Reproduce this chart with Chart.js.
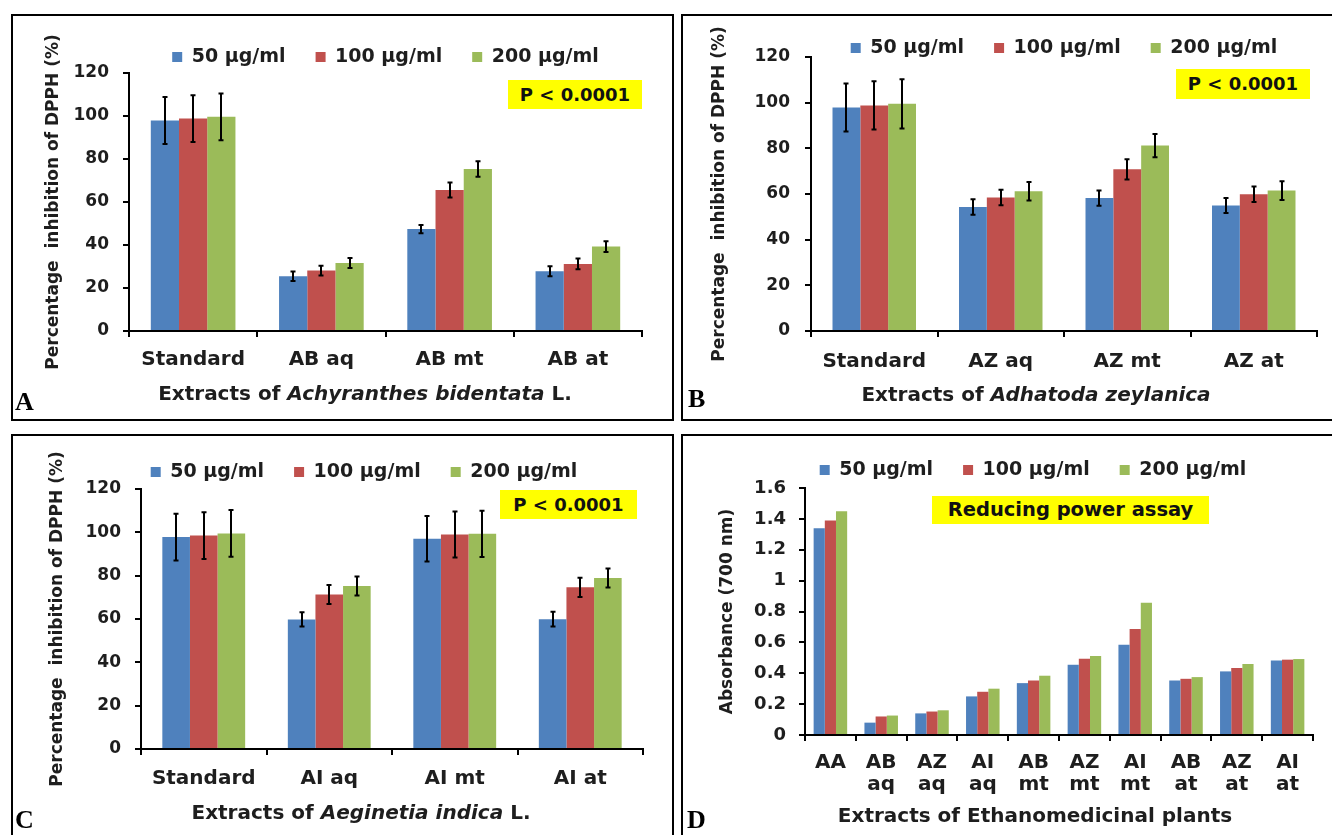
<!DOCTYPE html>
<html>
<head>
<meta charset="utf-8">
<script src="https://cdn.jsdelivr.net/npm/chart.js@4.4.1/dist/chart.umd.min.js"></script>
<style>
html, body { margin: 0; padding: 0; background: #fff; }
body { width: 1332px; height: 835px; overflow: hidden; position: relative; font-family: "DejaVu Sans", sans-serif; }
.panel { position: absolute; border: 2px solid #000; box-sizing: border-box; }
.panel canvas { position: absolute; left: 0; top: 0; }
.xt { position: absolute; transform: translateX(-50%); white-space: nowrap; font-weight: bold; font-size: 20px; line-height: 24px; color: #1e1e1e; }
.tag { position: absolute; font-family: "Liberation Serif", serif; font-weight: bold; font-size: 26px; line-height: 26px; color: #000; }
.note { position: absolute; background: #ffff00; font-weight: bold; font-size: 18px; text-align: center; color: #111; }
</style>
</head>
<body>

<div class="panel" style="left:11px;top:14px;width:663px;height:407px;">
  <canvas id="chartA" width="659" height="403"></canvas>
  <div class="note" style="left:495px;top:64px;width:134px;height:29px;line-height:29px;">P &lt; 0.0001</div>
  <div class="xt" style="left:352px;top:365px;">Extracts of <i>Achyranthes bidentata</i> L.</div>
  <div class="tag" style="left:2px;top:373px;">A</div>
</div>

<div class="panel" style="left:681px;top:14px;width:653px;height:407px;">
  <canvas id="chartB" width="649" height="403"></canvas>
  <div class="note" style="left:493px;top:53px;width:134px;height:30px;line-height:30px;">P &lt; 0.0001</div>
  <div class="xt" style="left:353px;top:366px;">Extracts of <i>Adhatoda zeylanica</i></div>
  <div class="tag" style="left:5px;top:370px;">B</div>
</div>

<div class="panel" style="left:11px;top:434px;width:663px;height:405px;">
  <canvas id="chartC" width="659" height="401"></canvas>
  <div class="note" style="left:487px;top:54px;width:137px;height:29px;line-height:29px;">P &lt; 0.0001</div>
  <div class="xt" style="left:348px;top:364px;">Extracts of <i>Aeginetia indica</i> L.</div>
  <div class="tag" style="left:2px;top:371px;">C</div>
</div>

<div class="panel" style="left:681px;top:434px;width:653px;height:405px;">
  <canvas id="chartD" width="649" height="401"></canvas>
  <div class="note" style="left:249px;top:60px;width:277px;height:28px;line-height:28px;font-size:19.5px;">Reducing power assay</div>
  <div class="xt" style="left:352px;top:367px;">Extracts of Ethanomedicinal plants</div>
  <div class="tag" style="left:4px;top:371px;">D</div>
</div>

<script>
const seriesNames = ['50 μg/ml', '100 μg/ml', '200 μg/ml'];
const seriesColors = ['#4f81bd', '#c0504d', '#9bbb59'];
const ink = '#1e1e1e';

// A - Achyranthes bidentata, DPPH
const catsA = ['Standard', 'AB aq', 'AB mt', 'AB at'];
const a50 = [97.9, 25.5, 47.4, 27.8];
const a100 = [98.8, 28.1, 65.6, 31.2];
const a200 = [99.6, 31.6, 75.3, 39.3];
const errA50 = [10.9, 2.2, 1.9, 2.3];
const errA100 = [10.9, 2.3, 3.5, 2.5];
const errA200 = [10.9, 2.3, 3.6, 2.5];

// B - Adhatoda zeylanica, DPPH
const catsB = ['Standard', 'AZ aq', 'AZ mt', 'AZ at'];
const b50 = [97.9, 54.3, 58.2, 55.0];
const b100 = [98.8, 58.5, 70.8, 59.9];
const b200 = [99.5, 61.2, 81.2, 61.5];
const errB50 = [10.5, 3.4, 3.3, 3.3];
const errB100 = [10.6, 3.4, 4.4, 3.4];
const errB200 = [10.8, 4.1, 5.1, 4.1];

// C - Aeginetia indica, DPPH
const catsC = ['Standard', 'AI aq', 'AI mt', 'AI at'];
const c50 = [97.8, 59.8, 97.0, 59.9];
const c100 = [98.5, 71.3, 99.0, 74.6];
const c200 = [99.5, 75.2, 99.3, 78.9];
const errC50 = [10.8, 3.3, 10.5, 3.4];
const errC100 = [10.8, 4.4, 10.6, 4.4];
const errC200 = [10.8, 4.4, 10.7, 4.4];

// D - reducing power, absorbance at 700 nm
const catsD = ['AA', ['AB', 'aq'], ['AZ', 'aq'], ['AI', 'aq'], ['AB', 'mt'], ['AZ', 'mt'], ['AI', 'mt'], ['AB', 'at'], ['AZ', 'at'], ['AI', 'at']];
const d50 = [1.34, 0.08, 0.14, 0.25, 0.336, 0.455, 0.585, 0.353, 0.412, 0.483];
const d100 = [1.39, 0.12, 0.152, 0.28, 0.353, 0.494, 0.687, 0.364, 0.434, 0.488];
const d200 = [1.45, 0.126, 0.16, 0.30, 0.384, 0.512, 0.856, 0.375, 0.46, 0.492];

const dpphTitle = 'Percentage  inhibition of DPPH (%)';

Chart.defaults.font.family = '"DejaVu Sans", sans-serif';
Chart.defaults.font.weight = 'bold';
Chart.defaults.color = ink;

// error bars drawn from each dataset's "errors" array
const errorBars = {
  id: 'errorBars',
  afterDatasetsDraw(chart) {
    const ctx = chart.ctx;
    const yScale = chart.scales.y;
    ctx.save();
    ctx.strokeStyle = '#000';
    ctx.lineWidth = 2;
    chart.data.datasets.forEach((ds, i) => {
      if (!ds.errors) return;
      chart.getDatasetMeta(i).data.forEach((bar, j) => {
        const v = ds.data[j], e = ds.errors[j];
        const yTop = yScale.getPixelForValue(v + e);
        const yBot = yScale.getPixelForValue(v - e);
        const x = Math.round(bar.x);
        ctx.beginPath();
        ctx.moveTo(x, yTop); ctx.lineTo(x, yBot);
        ctx.moveTo(x - 2.5, yTop); ctx.lineTo(x + 2.5, yTop);
        ctx.moveTo(x - 2.5, yBot); ctx.lineTo(x + 2.5, yBot);
        ctx.stroke();
      });
    });
    ctx.restore();
  }
};

function drawPanel(canvasId, labels, values, errors, o) {
  // o.padL > 0 shifts a full-width legend so it is not centred on the plot
  const fullSize = o.padL !== undefined;
  const padL = fullSize ? o.padL : 0;
  const padTop = o.legendY - 30 - 9.5;
  const axisGrid = { drawOnChartArea: false, color: '#000', lineWidth: 2, tickLength: 6 };
  const datasets = values.map((v, i) => ({
    label: seriesNames[i],
    data: v,
    errors: errors ? errors[i] : null,
    backgroundColor: seriesColors[i],
    borderWidth: 0,
    categoryPercentage: 0.66,
    barPercentage: 1
  }));
  return new Chart(document.getElementById(canvasId), {
    type: 'bar',
    data: { labels: labels, datasets: datasets },
    options: {
      responsive: false,
      animation: false,
      devicePixelRatio: 1,
      layout: { padding: { left: padL, right: o.W - o.r, top: padTop, bottom: 0 } },
      plugins: {
        legend: {
          position: 'top',
          fullSize: fullSize,
          maxHeight: o.t - padTop,
          labels: { boxWidth: 10, boxHeight: 10, padding: 30, font: { size: 19 }, color: ink }
        },
        tooltip: { enabled: false }
      },
      scales: {
        x: {
          grid: axisGrid,
          border: { color: '#000', width: 2 },
          ticks: { font: { size: 20, lineHeight: o.xLine || 1.2 }, padding: o.xPad, color: ink, maxRotation: 0, autoSkip: false },
          afterFit: s => { s.height = o.H - o.b; }
        },
        y: {
          min: 0,
          max: o.yMax,
          grid: axisGrid,
          border: { color: '#000', width: 2 },
          ticks: {
            stepSize: o.yStep, padding: o.tickPad, font: { size: o.tickSize }, color: ink,
            callback: v => String(+Number(v).toFixed(1))
          },
          title: {
            display: true, text: o.yTitle, font: { size: 17 }, color: ink,
            padding: { top: o.yTitleX - padL - 10.2, bottom: 0 }
          },
          afterFit: s => { s.width = o.l - padL; }
        }
      }
    },
    plugins: [errorBars]
  });
}

drawPanel('chartA', catsA, [a50, a100, a200], [errA50, errA100, errA200], {
  W: 659, H: 403, l: 116, r: 629, t: 57, b: 315,
  legendY: 41, yTitleX: 41, yTitle: dpphTitle, yMax: 120, yStep: 20,
  tickPad: 14, tickSize: 17, xPad: 11
});

drawPanel('chartB', catsB, [b50, b100, b200], [errB50, errB100, errB200], {
  W: 649, H: 403, l: 128, r: 634, t: 41, b: 315,
  legendY: 32, yTitleX: 37, yTitle: dpphTitle, yMax: 120, yStep: 20,
  tickPad: 15, tickSize: 17, xPad: 12.5
});

drawPanel('chartC', catsC, [c50, c100, c200], [errC50, errC100, errC200], {
  W: 659, H: 401, l: 128, r: 630, t: 53, b: 313,
  padL: 72, legendY: 36, yTitleX: 45, yTitle: dpphTitle, yMax: 120, yStep: 20,
  tickPad: 14, tickSize: 17, xPad: 12
});

drawPanel('chartD', catsD, [d50, d100, d200], null, {
  W: 649, H: 401, l: 122, r: 630, t: 52, b: 299,
  padL: 70, legendY: 34, yTitleX: 44.5, yTitle: 'Absorbance (700 nm)', yMax: 1.6, yStep: 0.2,
  tickPad: 13, tickSize: 18, xPad: 11, xLine: 1.1
});
</script>
</body>
</html>
